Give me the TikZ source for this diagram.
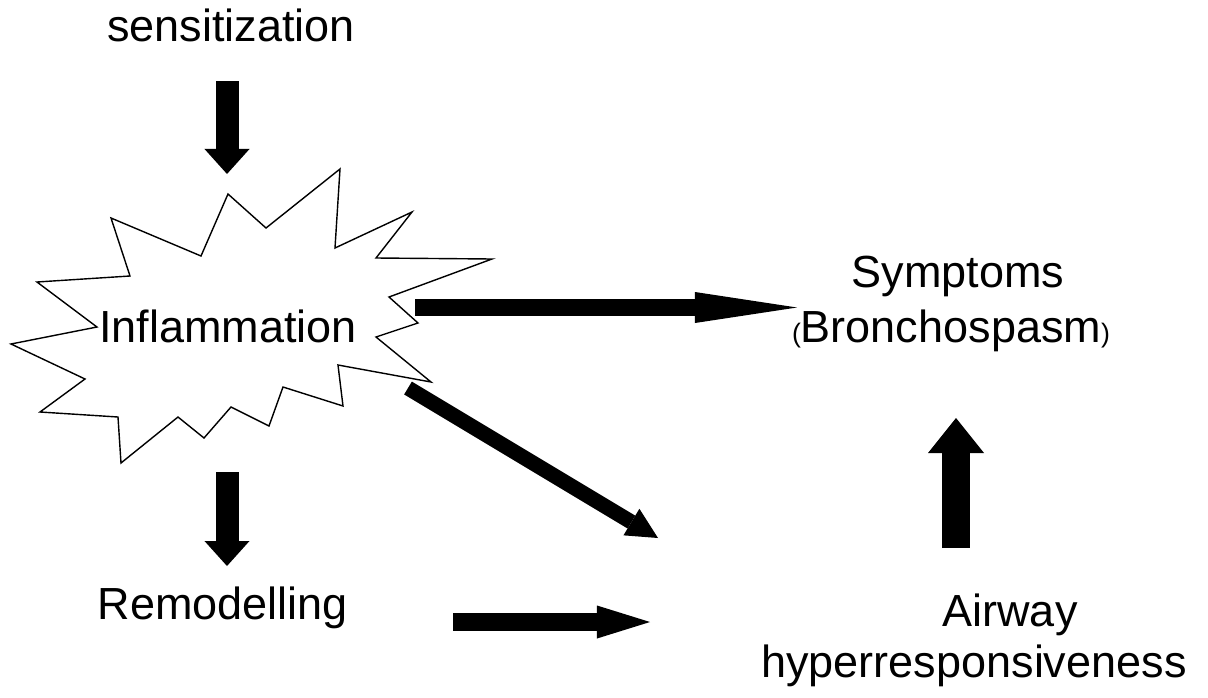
\documentclass[tikz,border=0pt]{standalone}
\usepackage{fontspec}
\setmainfont{Liberation Sans}
\usetikzlibrary{arrows.meta}

\tikzset{
  lbl/.style={anchor=base, inner sep=0pt, font=\fontsize{32}{37}\selectfont},
  fat/.style n args={3}{line width=#1, -{Triangle[width=#2, length=#3, line width=0pt]}}
}

\begin{document}
\begin{tikzpicture}[x=0.025cm, y=-0.025cm]
        \useasboundingbox (0,0) rectangle (1208,697);
        \draw[line width=1pt, fill=white] (228,194) -- (266,228) -- (340,169) -- (335,248) -- (412,212) -- (376,258)
            -- (492,259) -- (389,297) -- (418,323) -- (376,337) -- (431,382) -- (338,365) -- (343,406) -- (283,387)
            -- (269,426) -- (231,407) -- (204,438) -- (178,417) -- (121,463) -- (118,417) -- (40,412) -- (85,379)
            -- (11,344) -- (97,327) -- (37,282) -- (130,276) -- (111,218) -- (201,256) -- cycle;  % burst
        \node[lbl](sens) at (231,42)  {sensitization};
        \node[lbl](inflam) at (228,342)  {Inflammation};
        \node[lbl](remod) at (223,619)  {Remodelling};
        \node[lbl](symp) at (958,287)  {Symptoms};
        \node[lbl](bronch) at (951,342)  {{\fontsize{19}{19}\selectfont(}Bronchospasm{\fontsize{19}{19}\selectfont)}};
        \node[lbl](airway) at (1010,626)  {Airway};
        \node[lbl](hyper) at (974,677)  {hyperresponsiveness};

        \coordinate (a1s) at (227,81);   \coordinate (a1e) at (227,174);
        \coordinate (a2s) at (227,472);  \coordinate (a2e) at (227,566);
        \coordinate (a3s) at (415,307.5);\coordinate (a3e) at (797,307.5);
        \coordinate (a4s) at (408,388);  \coordinate (a4e) at (658,538);
        \coordinate (a5s) at (453,622);  \coordinate (a5e) at (650,622);
        \coordinate (a6s) at (956,548);  \coordinate (a6e) at (956,418);

        \draw[fat={0.575cm}{1.125cm}{0.625cm}] (a1s) -- (a1e);  % sens -> inflam
        \draw[fat={0.575cm}{1.125cm}{0.625cm}] (a2s) -- (a2e);  % inflam -> remod
        \draw[fat={0.425cm}{0.775cm}{2.55cm}] (a3s) -- (a3e);   % inflam -> symp
        \draw[fat={0.375cm}{0.775cm}{0.775cm}] (a4s) -- (a4e);  % inflam -> ahr
        \draw[fat={0.45cm}{0.825cm}{1.325cm}] (a5s) -- (a5e);   % remod -> ahr
        \draw[fat={0.7cm}{1.4cm}{0.875cm}] (a6s) -- (a6e);      % ahr -> symp
    \end{tikzpicture}
\end{document}
